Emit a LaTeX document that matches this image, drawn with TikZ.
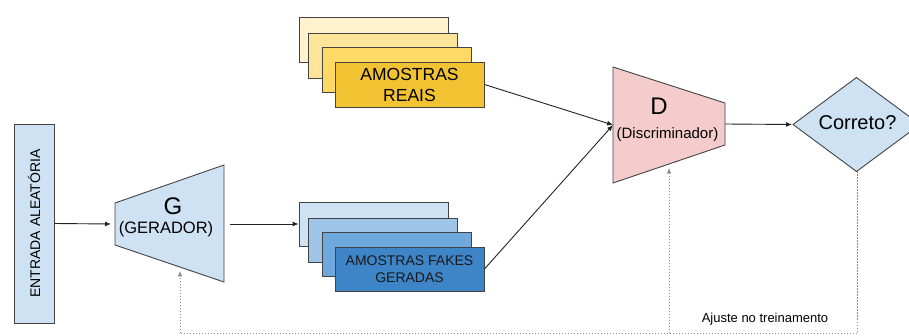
\documentclass[tikz,border=0pt]{standalone}
\usepackage{fontspec}
\setmainfont{Liberation Sans}
\usetikzlibrary{arrows.meta}
\definecolor{ylA}{HTML}{FFF2CC}
\definecolor{ylB}{HTML}{FFE599}
\definecolor{ylC}{HTML}{FFD966}
\definecolor{ylD}{HTML}{F1C232}
\definecolor{blA}{HTML}{CFE2F3}
\definecolor{blB}{HTML}{9FC5E8}
\definecolor{blC}{HTML}{6FA8DC}
\definecolor{blD}{HTML}{3D85C6}
\definecolor{pkA}{HTML}{F4CCCC}
\definecolor{edge}{HTML}{434343}
\definecolor{lineC}{HTML}{222222}
\definecolor{dotC}{HTML}{8A8A8A}
\begin{document}
\begin{tikzpicture}[x=1pt,y=-1pt,
  shapeline/.style={draw=edge,line width=0.9pt},
  samplebox/.style={shapeline,minimum width=149pt,inner sep=0pt},
  conn/.style={draw=lineC,line width=0.9pt,-{Latex[length=6pt,width=5pt]}},
  fb/.style={draw=dotC,line width=0.8pt,dash pattern=on 1.4pt off 1.6pt},
  fbarrow/.style={fb,-{Latex[length=5.5pt,width=4.5pt]}},
  lbl/.style={inner sep=0pt,align=center}]
\useasboundingbox (0,0) rectangle (909,336);
\clip (0,0) rectangle (909,336);

% entrada aleatoria
\node[shapeline,fill=blA,rotate=90,minimum width=199pt,minimum height=40pt,inner sep=0pt,
      font=\fontsize{14}{16}\selectfont] (ent) at (34,223.5) {\raisebox{0pt}{ENTRADA ALEATÓRIA}};

% generator trapezoid
\draw[shapeline,fill=blA] (115,203) -- (224,165) -- (224,282) -- (115,245) -- cycle;
\node[lbl,font=\fontsize{24}{26}\selectfont] (gG) at (173,206) {G};
\node[lbl,font=\fontsize{16.5}{18}\selectfont] (gtxt) at (166,229) {(GERADOR)};
\coordinate (gIn) at (111,224);
\coordinate (gOut) at (230,224);
\coordinate (gBot) at (180,271);

% real samples
\node[samplebox,fill=ylA,minimum height=45pt] (r1) at (373.5,39.5) {};
\node[samplebox,fill=ylB,minimum height=45pt] (r2) at (382.5,55.5) {};
\node[samplebox,fill=ylC,minimum height=45pt] (r3) at (396.5,69.5) {};
\node[samplebox,fill=ylD,minimum height=45pt,align=center,
      font=\fontsize{17.5}{21}\selectfont] (r4) at (409.5,84.5) {AMOSTRAS\\REAIS};

% fake samples
\node[samplebox,fill=blA,minimum height=44pt] (f1) at (373.5,224) {};
\node[samplebox,fill=blB,minimum height=44pt] (f2) at (382.5,240) {};
\node[samplebox,fill=blC,minimum height=44pt] (f3) at (396.5,254) {};
\node[samplebox,fill=blD,minimum height=44pt,align=center,text=black!90,
      font=\fontsize{14}{16.5}\selectfont] (f4) at (409.5,269) {AMOSTRAS FAKES\\GERADAS};

% discriminator trapezoid
\draw[shapeline,fill=pkA] (613,67) -- (725,103) -- (725,145) -- (613,183) -- cycle;
\node[lbl,font=\fontsize{24}{26}\selectfont] (dD) at (659,106) {D};
\node[lbl,font=\fontsize{15}{17}\selectfont] (dtxt) at (667.5,135) {(Discriminador)};
\coordinate (dIn) at (613,125);
\coordinate (dOut) at (725,124);
\coordinate (dBot) at (669,168);

% decision diamond
\draw[shapeline,fill=blA] (793,124.5) -- (856.5,77.5) -- (920,124.5) -- (856.5,171.5) -- cycle;
\node[lbl,font=\fontsize{20}{22}\selectfont] (cor) at (857.5,123) {Correto?};
\coordinate (cIn) at (792,124.5);
\coordinate (cBot) at (857.5,171.5);

% connectors
\draw[conn] (ent.south) -- (gIn);
\draw[conn] (gOut) -- (f1.west);
\draw[conn] (r4.east) -- (dIn);
\draw[conn] (f4.east) -- (dIn);
\draw[conn] (dOut) -- (cIn);

% feedback
\coordinate (fbR) at (857.5,333);
\coordinate (fbL) at (180,333);
\coordinate (fbD) at (669,333);
\draw[fb] (cBot) -- (fbR) -- (fbL);
\draw[fbarrow] (fbL) -- (gBot);
\draw[fbarrow] (fbD) -- (dBot);
\node[lbl,font=\fontsize{13}{15}\selectfont] (adj) at (765,319) {Ajuste no treinamento};
\end{tikzpicture}
\end{document}
